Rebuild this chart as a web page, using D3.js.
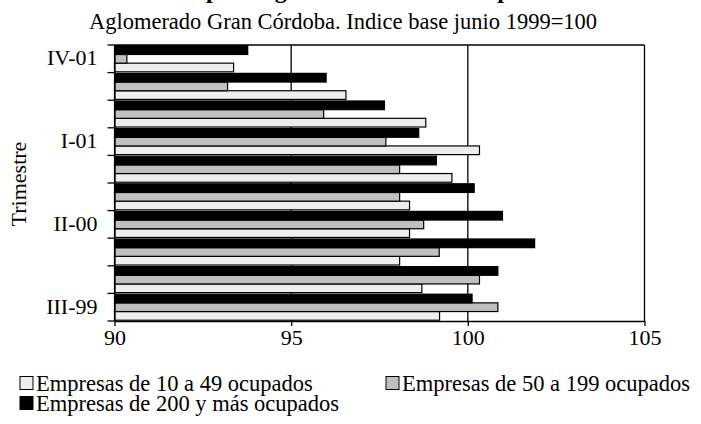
<!DOCTYPE html>
<html>
<head>
<meta charset="utf-8">
<script src="https://cdn.jsdelivr.net/npm/d3@7"></script>
<style>
  body { margin: 0; background: #fff; }
  svg { display: block; font-family: "Liberation Serif", "Times New Roman", serif; }
</style>
</head>
<body>
<svg width="701" height="424"></svg>
<script>
// trimestres, de abajo hacia arriba
var quarters = ["III-99", "IV-99", "I-00", "II-00", "III-00", "IV-00", "I-01", "II-01", "III-01", "IV-01"];
var shownLabels = ["III-99", "II-00", "I-01", "IV-01"];

// indice base junio 1999 = 100
var small = [99.2, 98.7, 98.07, 98.35, 98.35, 99.55, 100.33, 98.81, 96.55, 93.37];
var medium = [100.85, 100.33, 99.19, 98.75, 98.07, 98.07, 97.68, 95.92, 93.2, 90.35];
var large = [100.12, 100.85, 101.89, 100.98, 100.18, 99.11, 98.61, 97.64, 95.99, 93.77];

var xTicks = [90, 95, 100, 105];
var seriesNames = ["Empresas de 10 a 49 ocupados", "Empresas de 50 a 199 ocupados", "Empresas de 200 y más ocupados"];
var seriesColors = ["#eeeeee", "#c0c0c0", "#000000"];

var FONT = '"Liberation Serif", "Times New Roman", serif';
var svg = d3.select("svg");
var plot = {left: 114.5, right: 644.5, top: 45, bottom: 321};

var x = d3.scaleLinear().domain([90, 105]).range([plot.left, plot.right]);
var y = d3.scaleBand().domain(quarters.slice().reverse()).range([plot.top, plot.bottom]);
// within a group: black on top, then gray, then light
var sub = d3.scaleBand().domain([2, 1, 0]).range([0, y.bandwidth()]).paddingOuter(0.09);

var series = [small, medium, large];
var rows = [];
quarters.forEach(function (q, i) {
    series.forEach(function (s, k) {
        rows.push({q: q, k: k, v: s[i]});
    });
});

// title: only the descenders fall inside the picture
var title = svg.append("text")
    .attr("x", 0).attr("y", -2.2)
    .style("font-size", "24px").style("font-weight", "bold")
    .text("Índice de empleo según tamaño de las empresas");
var pIndex = title.text().indexOf("p");
title.attr("x", 208 - title.node().getStartPositionOfChar(pIndex).x - 2);

svg.append("text")
    .attr("x", 343).attr("y", 29)
    .attr("text-anchor", "middle")
    .style("font-size", "22.5px")
    .text("Aglomerado Gran Córdoba. Indice base junio 1999=100");

// gridlines
svg.append("g").selectAll("line")
    .data(xTicks.slice(1))
    .enter().append("line")
    .attr("x1", function (d) { return x(d); })
    .attr("x2", function (d) { return x(d); })
    .attr("y1", plot.top).attr("y2", plot.bottom)
    .attr("stroke", "#000").attr("stroke-width", 1.3);

svg.append("line")
    .attr("x1", plot.left).attr("x2", plot.right)
    .attr("y1", plot.top).attr("y2", plot.top)
    .attr("stroke", "#000").attr("stroke-width", 1.3);

// bars
svg.append("g").selectAll("rect")
    .data(rows)
    .enter().append("rect")
    .attr("x", x(90))
    .attr("y", function (d) { return y(d.q) + sub(d.k); })
    .attr("width", function (d) { return x(d.v) - x(90); })
    .attr("height", sub.bandwidth())
    .attr("fill", function (d) { return seriesColors[d.k]; })
    .attr("stroke", "#000")
    .attr("stroke-width", 1.2);

// x axis
var xAxis = svg.append("g")
    .attr("transform", "translate(0," + plot.bottom + ")")
    .call(d3.axisBottom(x).tickValues(xTicks).tickSize(5).tickPadding(3).tickSizeOuter(0))
    .attr("font-family", FONT).attr("font-size", 22);
xAxis.select(".domain").attr("stroke-width", 1.3);
xAxis.selectAll(".tick line").attr("stroke-width", 1.3);
xAxis.selectAll("text").attr("fill", "#000");

// y axis
var yAxis = svg.append("g")
    .attr("transform", "translate(" + plot.left + ",0)")
    .call(d3.axisLeft(y).tickValues(shownLabels).tickSize(0).tickPadding(17).tickSizeOuter(0))
    .attr("font-family", FONT).attr("font-size", 22);
yAxis.select(".domain").attr("stroke-width", 1.3);
yAxis.selectAll("text").attr("fill", "#000").attr("dy", "0.3em");

// tick marks at category boundaries
var bounds = quarters.map(function (q) { return y(q); }).concat([plot.bottom]);
svg.append("g").selectAll("line")
    .data(bounds)
    .enter().append("line")
    .attr("x1", plot.left - 7).attr("x2", plot.left)
    .attr("y1", function (d) { return d; }).attr("y2", function (d) { return d; })
    .attr("stroke", "#000").attr("stroke-width", 1.3);

svg.append("text")
    .attr("transform", "translate(26,184) rotate(-90)")
    .attr("text-anchor", "middle")
    .style("font-size", "22px")
    .text("Trimestre");

// legend
var legendPos = [[20, 383], [386, 383], [20, 403]];
var legend = svg.append("g").selectAll("g")
    .data(seriesNames)
    .enter().append("g")
    .attr("transform", function (d, i) { return "translate(" + legendPos[i][0] + "," + legendPos[i][1] + ")"; });

legend.append("rect")
    .attr("x", 0).attr("y", -6.5)
    .attr("width", 13).attr("height", 13)
    .attr("fill", function (d, i) { return seriesColors[i]; })
    .attr("stroke", "#000").attr("stroke-width", 1);

legend.append("text")
    .attr("x", 16).attr("y", 7.5)
    .style("font-size", "22.5px")
    .text(function (d) { return d; });
</script>
</body>
</html>
